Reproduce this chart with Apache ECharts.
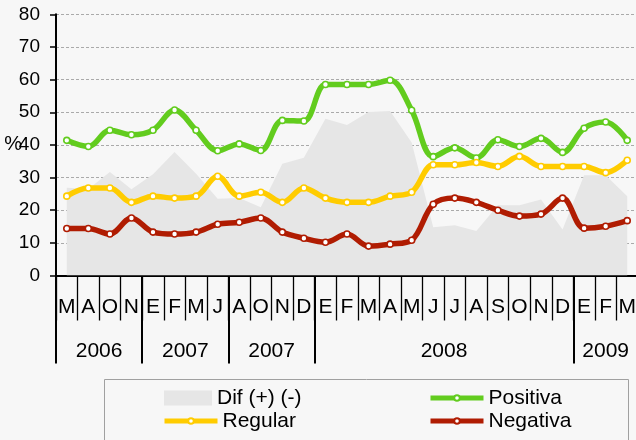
<!DOCTYPE html>
<html>
<head>
<meta charset="utf-8">
<script src="https://cdn.jsdelivr.net/npm/echarts@6/dist/echarts.min.js"></script>
<style>
html,body{margin:0;padding:0;background:#f7f7f7;}
#c{width:636px;height:440px;}
</style>
</head>
<body>
<div id="c"></div>
<script>
var months = ['M','A','O','N','E','F','M','J','A','O','N','D','E','F','M','A','M','J','J','A','S','O','N','D','E','F','M'];
var yearLabels = ['2006','2007','2007','2008','2009'];
var yearGroupSizes = [4,4,4,12,3];
var yTicks = [0,10,20,30,40,50,60,70,80];

var dif      = [26.9,26.5,31.7,26.4,31.0,37.8,31.2,23.5,23.7,20.9,34.2,36.1,48.0,46.1,50.1,50.4,40.7,14.8,15.4,13.6,21.5,21.5,23.3,14.1,30.7,30.7,24.3];
var positiva = [41.4,39.5,44.5,43.1,44.5,50.7,44.5,38.2,40.3,38.3,47.5,47.3,58.5,58.5,58.5,59.8,50.6,36.4,39.1,36.0,41.6,39.5,42.0,37.7,45.1,47.0,41.4];
var regular  = [24.3,26.8,26.8,22.4,24.3,23.7,24.3,30.4,24.3,25.5,22.4,26.8,23.7,22.4,22.4,24.3,25.5,33.9,33.9,34.6,33.4,36.5,33.4,33.4,33.4,31.5,35.3];
var negativa = [14.4,14.4,12.7,17.6,13.3,12.7,13.3,15.7,16.3,17.6,13.3,11.4,10.2,12.7,9.0,9.6,10.8,21.8,23.7,22.4,20.0,18.2,18.8,23.7,14.5,15.1,16.8];

var FONT = 'Liberation Sans, Arial, sans-serif';
var GREEN = '#62cc1e', YELLOW = '#ffcc00', RED = '#b01c02', GRAY = '#e6e6e6';

// year group boundaries and centres (in category units)
var yearStarts = [], yearCenters = [];
(function(){ var s = 0; for (var i = 0; i < yearGroupSizes.length; i++) { yearStarts.push(s); yearCenters.push(s + yearGroupSizes[i] / 2); s += yearGroupSizes[i]; } })();

function lineSeries(name, data, color) {
  return {
    name: name, type: 'line', data: data, smooth: 0.35, z: 3,
    symbol: 'circle', symbolSize: 6, showAllSymbol: true,
    lineStyle: { color: color, width: 5.5 },
    itemStyle: { color: '#ffffff', borderColor: color, borderWidth: 1.6 },
    emphasis: { disabled: true }
  };
}

var chart = echarts.init(document.getElementById('c'), null, { renderer: 'canvas' });
var legendText = { fontSize: 21, color: '#000', fontFamily: FONT };
chart.setOption({
  backgroundColor: '#f7f7f7',
  animation: false,
  grid: { left: 56, top: 14.3, width: 582, height: 261.2, containLabel: false, outerBoundsMode: 'none' },
  graphic: [{
    type: 'rect', silent: true, z: 0,
    shape: { x: 104.5, y: 379.5, width: 524, height: 80 },
    style: { fill: 'none', stroke: '#a0a0a0', lineWidth: 1 }
  }],
  legend: [
    { data: [{ name: 'Dif (+) (-)', icon: 'rect' }], left: 164, top: 387.5, padding: 0,
      itemWidth: 48, itemHeight: 15, itemGap: 2, itemTextGap: 8, textStyle: legendText, selectedMode: false },
    { data: ['Regular'], left: 162, top: 410.5, padding: 0, orient: 'vertical',
      itemWidth: 53, itemHeight: 7, itemTextGap: 6, textStyle: legendText, selectedMode: false,
      lineStyle: { width: 5 } },
    { data: ['Positiva', 'Negativa'], left: 428, top: 387.5, padding: 0, orient: 'vertical',
      itemWidth: 53, itemHeight: 7, itemGap: 2, itemTextGap: 6, textStyle: legendText, selectedMode: false,
      lineStyle: { width: 5 } }
  ],
  xAxis: [
    { type: 'category', data: months, boundaryGap: true, position: 'bottom',
      axisLine: { show: true, lineStyle: { color: '#000', width: 2 } },
      axisTick: { show: true, interval: 0, length: 45, lineStyle: { color: '#000', width: 1.3 } },
      axisLabel: { interval: 0, fontSize: 21, color: '#000', fontFamily: FONT, margin: 21 },
      splitLine: { show: false } },
    { type: 'category', data: months, boundaryGap: true, position: 'bottom',
      axisLine: { show: false },
      axisTick: { show: true, length: 88, lineStyle: { color: '#000', width: 2 },
        interval: function (i) { return yearStarts.indexOf(i) >= 0; } },
      axisLabel: { show: false }, splitLine: { show: false } },
    { type: 'value', min: 0, max: 27, interval: 0.5, position: 'bottom',
      axisLine: { show: false }, axisTick: { show: false }, splitLine: { show: false },
      axisLabel: { show: true, fontSize: 21, color: '#000', fontFamily: FONT, margin: 65,
        showMinLabel: true, showMaxLabel: true, hideOverlap: false,
        formatter: function (v) {
          for (var i = 0; i < yearCenters.length; i++) if (Math.abs(yearCenters[i] - v) < 0.01) return yearLabels[i];
          return '';
        } } },
    { type: 'category', data: months, boundaryGap: true, position: 'bottom',
      axisLine: { show: false },
      axisTick: { show: true, inside: true, length: 4, lineStyle: { color: '#000', width: 1.3 },
        interval: function (i) { return i % 12 === 6; } },
      axisLabel: { show: false }, splitLine: { show: false } }
  ],
  yAxis: {
    type: 'value', min: yTicks[0], max: yTicks[yTicks.length - 1], interval: 10,
    name: '%', nameLocation: 'middle', nameRotate: 0, nameGap: 34, nameMoveOverlap: false,
    nameTextStyle: { fontSize: 20, color: '#000', fontFamily: FONT },
    axisLine: { show: true, lineStyle: { color: '#000', width: 2 } },
    axisTick: { show: true, length: 6, lineStyle: { color: '#000', width: 1.5 } },
    axisLabel: { fontSize: 19, color: '#000', fontFamily: FONT, margin: 16 },
    splitLine: { show: true, lineStyle: { color: '#aaaaaa', type: [3, 2], width: 1 } }
  },
  series: [
    { name: 'Dif (+) (-)', type: 'line', data: dif, smooth: false, symbol: 'none', z: 1,
      color: GRAY,
      lineStyle: { width: 0, color: GRAY },
      areaStyle: { color: GRAY, opacity: 1 },
      emphasis: { disabled: true } },
    lineSeries('Positiva', positiva, GREEN),
    lineSeries('Regular', regular, YELLOW),
    lineSeries('Negativa', negativa, RED)
  ]
});
</script>
</body>
</html>
